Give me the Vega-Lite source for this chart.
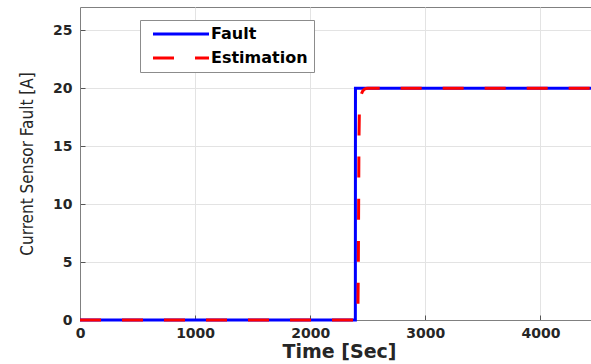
{
  "$schema": "https://vega.github.io/schema/vega-lite/v6.json",
  "autosize": {"type": "none"},
  "padding": {"left": 80, "top": 7, "right": 0, "bottom": 44},
  "width": 518,
  "height": 313,
  "background": "white",
  "config": {
    "view": {"stroke": "#808080", "strokeWidth": 1},
    "axis": {
      "labelFont": "DejaVu Sans",
      "labelFontWeight": "bold",
      "labelFontSize": 14,
      "labelColor": "#262626",
      "gridColor": "#e3e3e3",
      "gridWidth": 1,
      "domainColor": "#808080",
      "tickColor": "#555555",
      "tickSize": -5,
      "titleColor": "#262626"
    }
  },
  "data": {
    "values": [
      {"series": "Fault", "t": 0, "v": 0},
      {"series": "Fault", "t": 2392, "v": 0},
      {"series": "Fault", "t": 2393, "v": 20},
      {"series": "Fault", "t": 4500, "v": 20},
      {"series": "Estimation", "t": 0, "v": 0},
      {"series": "Estimation", "t": 2412, "v": 0},
      {"series": "Estimation", "t": 2418, "v": 5},
      {"series": "Estimation", "t": 2424, "v": 16},
      {"series": "Estimation", "t": 2430, "v": 18.7},
      {"series": "Estimation", "t": 2445, "v": 19.5},
      {"series": "Estimation", "t": 2470, "v": 19.9},
      {"series": "Estimation", "t": 2500, "v": 20},
      {"series": "Estimation", "t": 4500, "v": 20}
    ]
  },
  "encoding": {
    "x": {
      "field": "t", "type": "quantitative",
      "scale": {"domain": [0, 4500], "nice": false},
      "axis": {
        "values": [0, 1000, 2000, 3000, 4000],
        "format": "d",
        "labelFlush": false,
        "labelPadding": 11,
        "title": "Time [Sec]",
        "titleFont": "DejaVu Sans",
        "titleFontWeight": "bold",
        "titleFontSize": 19,
        "titlePadding": 2
      }
    },
    "y": {
      "field": "v", "type": "quantitative",
      "scale": {"domain": [0, 27], "nice": false},
      "axis": {
        "values": [0, 5, 10, 15, 20, 25],
        "labelPadding": 13,
        "title": "Current Sensor Fault [A]",
        "titleFont": "Liberation Sans Narrow, DejaVu Sans Condensed, Liberation Sans",
        "titleFontWeight": "normal",
        "titleFontSize": 17,
        "titlePadding": 16
      }
    },
    "color": {
      "field": "series", "type": "nominal",
      "scale": {"domain": ["Fault", "Estimation"], "range": ["#0000ff", "#ff0000"]},
      "legend": {
        "title": null,
        "orient": "none",
        "legendX": 60,
        "legendY": 13,
        "padding": 6,
        "symbolOffset": 3,
        "symbolType": "M-1,0H13",
        "symbolSize": 64,
        "symbolStrokeWidth": 3,
        "labelOffset": 46,
        "rowPadding": 8,
        "labelFont": "DejaVu Sans",
        "labelFontWeight": "bold",
        "labelFontSize": 16,
        "labelColor": "#000000",
        "strokeColor": "#8c8c8c",
        "fillColor": "white"
      }
    },
    "strokeDash": {
      "field": "series", "type": "nominal",
      "scale": {"domain": ["Fault", "Estimation"], "range": [[1, 0], [21, 21]]},
      "legend": {
        "title": null,
        "orient": "none",
        "legendX": 60,
        "legendY": 13,
        "padding": 6,
        "symbolOffset": 3,
        "symbolType": "M-1,0H13",
        "symbolSize": 64,
        "symbolStrokeWidth": 3,
        "labelOffset": 46,
        "rowPadding": 8,
        "labelFont": "DejaVu Sans",
        "labelFontWeight": "bold",
        "labelFontSize": 16,
        "labelColor": "#000000",
        "strokeColor": "#8c8c8c",
        "fillColor": "white"
      }
    }
  },
  "layer": [
    {
      "transform": [{"filter": "datum.series === 'Fault'"}],
      "mark": {"type": "line", "strokeWidth": 3, "interpolate": "linear"}
    },
    {
      "transform": [{"filter": "datum.series === 'Estimation'"}],
      "mark": {"type": "line", "strokeWidth": 3, "interpolate": "monotone"}
    }
  ]
}
